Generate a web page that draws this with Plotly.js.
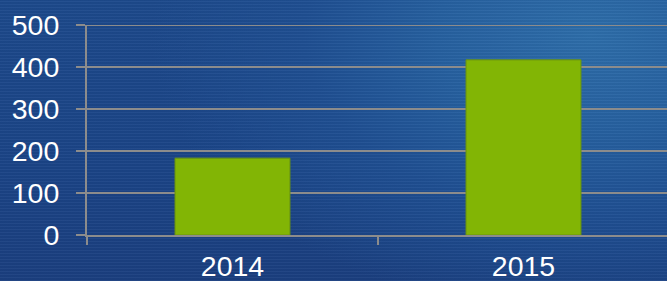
<!DOCTYPE html>
<html>
<head>
<meta charset="utf-8">
<script src="https://cdn.plot.ly/plotly-3.0.1.min.js"></script>
<style>
html,body{margin:0;padding:0;width:667px;height:281px;overflow:hidden;}
body{
  background:
    repeating-linear-gradient(0deg, rgba(255,255,255,0.035) 0px, rgba(255,255,255,0.035) 1px, rgba(0,0,0,0.035) 1px, rgba(0,0,0,0.035) 3px),
    radial-gradient(ellipse 440px 280px at 590px 35px, #2e6eaa 0%, #2660a0 35%, #1f4f92 65%, rgba(27,66,133,0) 100%),
    linear-gradient(180deg, #1d4a8c 0%, #1b4487 60%, #1b3f80 100%);
}
#chart{width:680px;height:281px;}
</style>
</head>
<body>
<div id="chart"></div>
<script>
var categories = ["2014", "2015"];
var values = [183, 417];
var yTicks = [0, 100, 200, 300, 400, 500];

var grid = "#8c8c8c";
var trace = {
  type: "bar",
  x: categories,
  y: values,
  width: 0.395,
  marker: {color: "#82b505", line: {color: "#6a9410", width: 1}},
  hoverinfo: "skip"
};
var layout = {
  width: 680,
  height: 281,
  margin: {l: 87, r: 11, t: 25, b: 46},
  paper_bgcolor: "rgba(0,0,0,0)",
  plot_bgcolor: "rgba(0,0,0,0)",
  showlegend: false,
  font: {family: "Liberation Sans, Arial, sans-serif", color: "#ffffff", size: 28.5},
  shapes: [{
    type: "line", xref: "paper", yref: "y",
    x0: 0, x1: 1,
    y0: yTicks[yTicks.length - 1], y1: yTicks[yTicks.length - 1],
    line: {color: grid, width: 2},
    layer: "below"
  }],
  xaxis: {
    type: "category",
    tickson: "boundaries",
    ticks: "outside",
    ticklen: 8,
    tickwidth: 2,
    tickcolor: grid,
    showline: true,
    linecolor: grid,
    linewidth: 2,
    showgrid: false,
    zeroline: false,
    ticklabelstandoff: 5,
    tickfont: {size: 28.5, color: "#ffffff"}
  },
  yaxis: {
    range: [0, 500],
    tickvals: yTicks,
    ticktext: yTicks.map(String),
    ticks: "outside",
    ticklen: 9,
    tickwidth: 2,
    tickcolor: grid,
    showline: true,
    linecolor: grid,
    linewidth: 2,
    showgrid: true,
    gridcolor: grid,
    gridwidth: 2,
    zeroline: false,
    ticklabelstandoff: 11,
    tickfont: {size: 28.5, color: "#ffffff"}
  }
};
Plotly.newPlot("chart", [trace], layout, {displayModeBar: false, staticPlot: true});
</script>
</body>
</html>
